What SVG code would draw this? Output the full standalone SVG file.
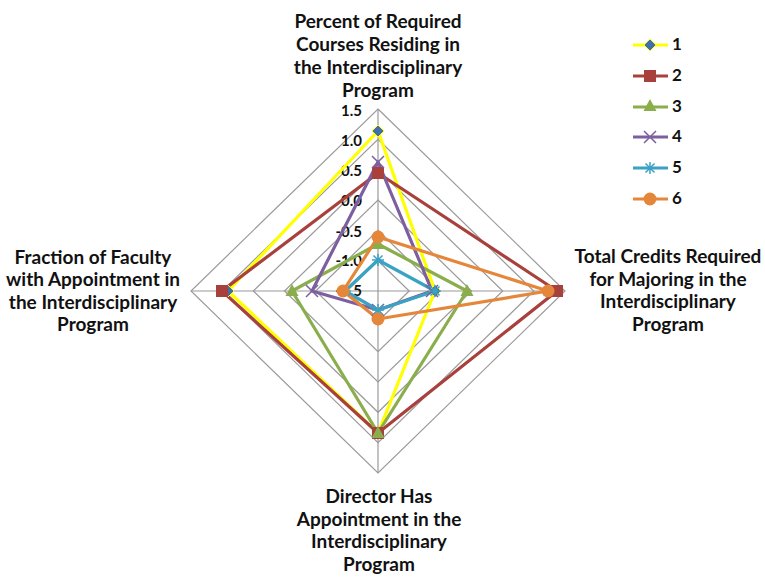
<svg xmlns="http://www.w3.org/2000/svg" width="765" height="578" viewBox="0 0 765 578">
<style>
.lbl{font-family:Lato,"Liberation Sans",sans-serif;font-weight:700;font-size:19px;fill:#111;text-anchor:middle}
.tick{font-family:Lato,"Liberation Sans",sans-serif;font-weight:700;font-size:15px;fill:#111;text-anchor:end;dominant-baseline:middle}
.leg{font-family:Lato,"Liberation Sans",sans-serif;font-weight:700;font-size:17px;fill:#111;dominant-baseline:middle}
.grid{fill:none;stroke:#9a9a9a;stroke-width:1.2}
.s{fill:none;stroke-width:3.2;stroke-linejoin:round}
</style>
<defs>
<path id="mDia" d="M0,-6 L6,0 L0,6 L-6,0 Z" fill="#3f6fb0" stroke="#ffff00" stroke-width="1"/>
<rect id="mSq" x="-6" y="-6" width="12" height="12" fill="#a8403c"/>
<path id="mTri" d="M0,-7 L6.5,5 L-6.5,5 Z" fill="#8aae4b"/>
<path id="mX" d="M-6,-6 L6,6 M-6,6 L6,-6" stroke="#7d5fa0" stroke-width="1.5" fill="none"/>
<path id="mStar" d="M-6,0 L6,0 M0,-6 L0,6 M-4.5,-4.5 L4.5,4.5 M-4.5,4.5 L4.5,-4.5" stroke="#3aa2c2" stroke-width="1.5" fill="none"/>
<circle id="mCir" r="6.5" fill="#e5873a"/>
</defs>
<rect width="765" height="578" fill="#fff"/>
<g id="grid">
<polygon class="grid" points="378,109 565,291 378,473 191,291"/>
<polygon class="grid" points="378,139.3 533.8,291 378,442.7 222.2,291"/>
<polygon class="grid" points="378,169.7 502.7,291 378,412.3 253.3,291"/>
<polygon class="grid" points="378,200 471.5,291 378,382 284.5,291"/>
<polygon class="grid" points="378,230.3 440.3,291 378,351.7 315.7,291"/>
<polygon class="grid" points="378,260.7 409.2,291 378,321.3 346.8,291"/>
<line class="grid" x1="378" y1="109" x2="378" y2="473"/>
<line class="grid" x1="191" y1="291" x2="565" y2="291"/>
</g>
<g id="ticks">
<text class="tick" x="362" y="112">1.5</text>
<text class="tick" x="362" y="142">1.0</text>
<text class="tick" x="362" y="172">0.5</text>
<text class="tick" x="362" y="202">0.0</text>
<text class="tick" x="362" y="233">-0.5</text>
<text class="tick" x="362" y="262">-1.0</text>
<text class="tick" x="362" y="292">-1.5</text>
</g>
<g id="connectors">
<polygon id="series1" class="s" stroke="#ffff00" points="378,131 435,291 378,433 228,291"/>
<polygon id="series2" class="s" stroke="#a8403c" points="378,173 557,291 378,433 222,291"/>
<polygon id="series3" class="s" stroke="#8aae4b" points="378,244 467,291 378,433 292,291"/>
<polygon id="series4" class="s" stroke="#7d5fa0" points="378,162 432,291 378,310 312,291"/>
<polygon id="series5" class="s" stroke="#3aa2c2" points="378,260 435,291 378,310 345,291"/>
<polygon id="series6" class="s" stroke="#e5873a" points="378,237 548,291 378,319 343,291"/>
</g>
<g id="markers">
<use href="#mDia" x="378" y="131"/><use href="#mDia" x="435" y="291"/><use href="#mDia" x="378" y="433"/><use href="#mDia" x="228" y="291"/>
<use href="#mSq" x="378" y="173"/><use href="#mSq" x="557" y="291"/><use href="#mSq" x="378" y="433"/><use href="#mSq" x="222" y="291"/>
<use href="#mTri" x="378" y="244"/><use href="#mTri" x="467" y="291"/><use href="#mTri" x="378" y="433"/><use href="#mTri" x="292" y="291"/>
<use href="#mX" x="378" y="162"/><use href="#mX" x="432" y="291"/><use href="#mX" x="378" y="310"/><use href="#mX" x="312" y="291"/>
<use href="#mStar" x="378" y="260"/><use href="#mStar" x="435" y="291"/><use href="#mStar" x="378" y="310"/><use href="#mStar" x="345" y="291"/>
<use href="#mCir" x="378" y="237"/><use href="#mCir" x="548" y="291"/><use href="#mCir" x="378" y="319"/><use href="#mCir" x="343" y="291"/>
</g>
<g id="label-top">
<text class="lbl" x="378" y="27.5">Percent of Required</text>
<text class="lbl" x="378" y="50.8">Courses Residing in</text>
<text class="lbl" x="378" y="74.1">the Interdisciplinary</text>
<text class="lbl" x="378" y="97.4">Program</text>
</g>
<g id="label-left">
<text class="lbl" x="93" y="263.5">Fraction of Faculty</text>
<text class="lbl" x="93" y="286">with Appointment in</text>
<text class="lbl" x="93" y="308.5">the Interdisciplinary</text>
<text class="lbl" x="93" y="331">Program</text>
</g>
<g id="label-right">
<text class="lbl" x="668" y="263">Total Credits Required</text>
<text class="lbl" x="668" y="285.5">for Majoring in the</text>
<text class="lbl" x="668" y="308">Interdisciplinary</text>
<text class="lbl" x="668" y="330.5">Program</text>
</g>
<g id="label-bottom">
<text class="lbl" x="379" y="503">Director Has</text>
<text class="lbl" x="379" y="525.5">Appointment in the</text>
<text class="lbl" x="379" y="548">Interdisciplinary</text>
<text class="lbl" x="379" y="570.5">Program</text>
</g>
<g id="legend">
<line x1="633" y1="45" x2="668" y2="45" stroke="#ffff00" stroke-width="3"/><use href="#mDia" x="650" y="45"/><text class="leg" x="672" y="46">1</text>
<line x1="633" y1="76" x2="668" y2="76" stroke="#a8403c" stroke-width="3"/><use href="#mSq" x="650" y="76"/><text class="leg" x="672" y="77">2</text>
<line x1="633" y1="107" x2="668" y2="107" stroke="#8aae4b" stroke-width="3"/><use href="#mTri" x="650" y="106"/><text class="leg" x="672" y="108">3</text>
<line x1="633" y1="137" x2="668" y2="137" stroke="#7d5fa0" stroke-width="3"/><use href="#mX" x="650" y="137"/><text class="leg" x="672" y="138">4</text>
<line x1="633" y1="168" x2="668" y2="168" stroke="#3aa2c2" stroke-width="3"/><use href="#mStar" x="650" y="168"/><text class="leg" x="672" y="169">5</text>
<line x1="633" y1="199" x2="668" y2="199" stroke="#e5873a" stroke-width="3"/><use href="#mCir" x="650" y="199"/><text class="leg" x="672" y="200">6</text>
</g>
</svg>
